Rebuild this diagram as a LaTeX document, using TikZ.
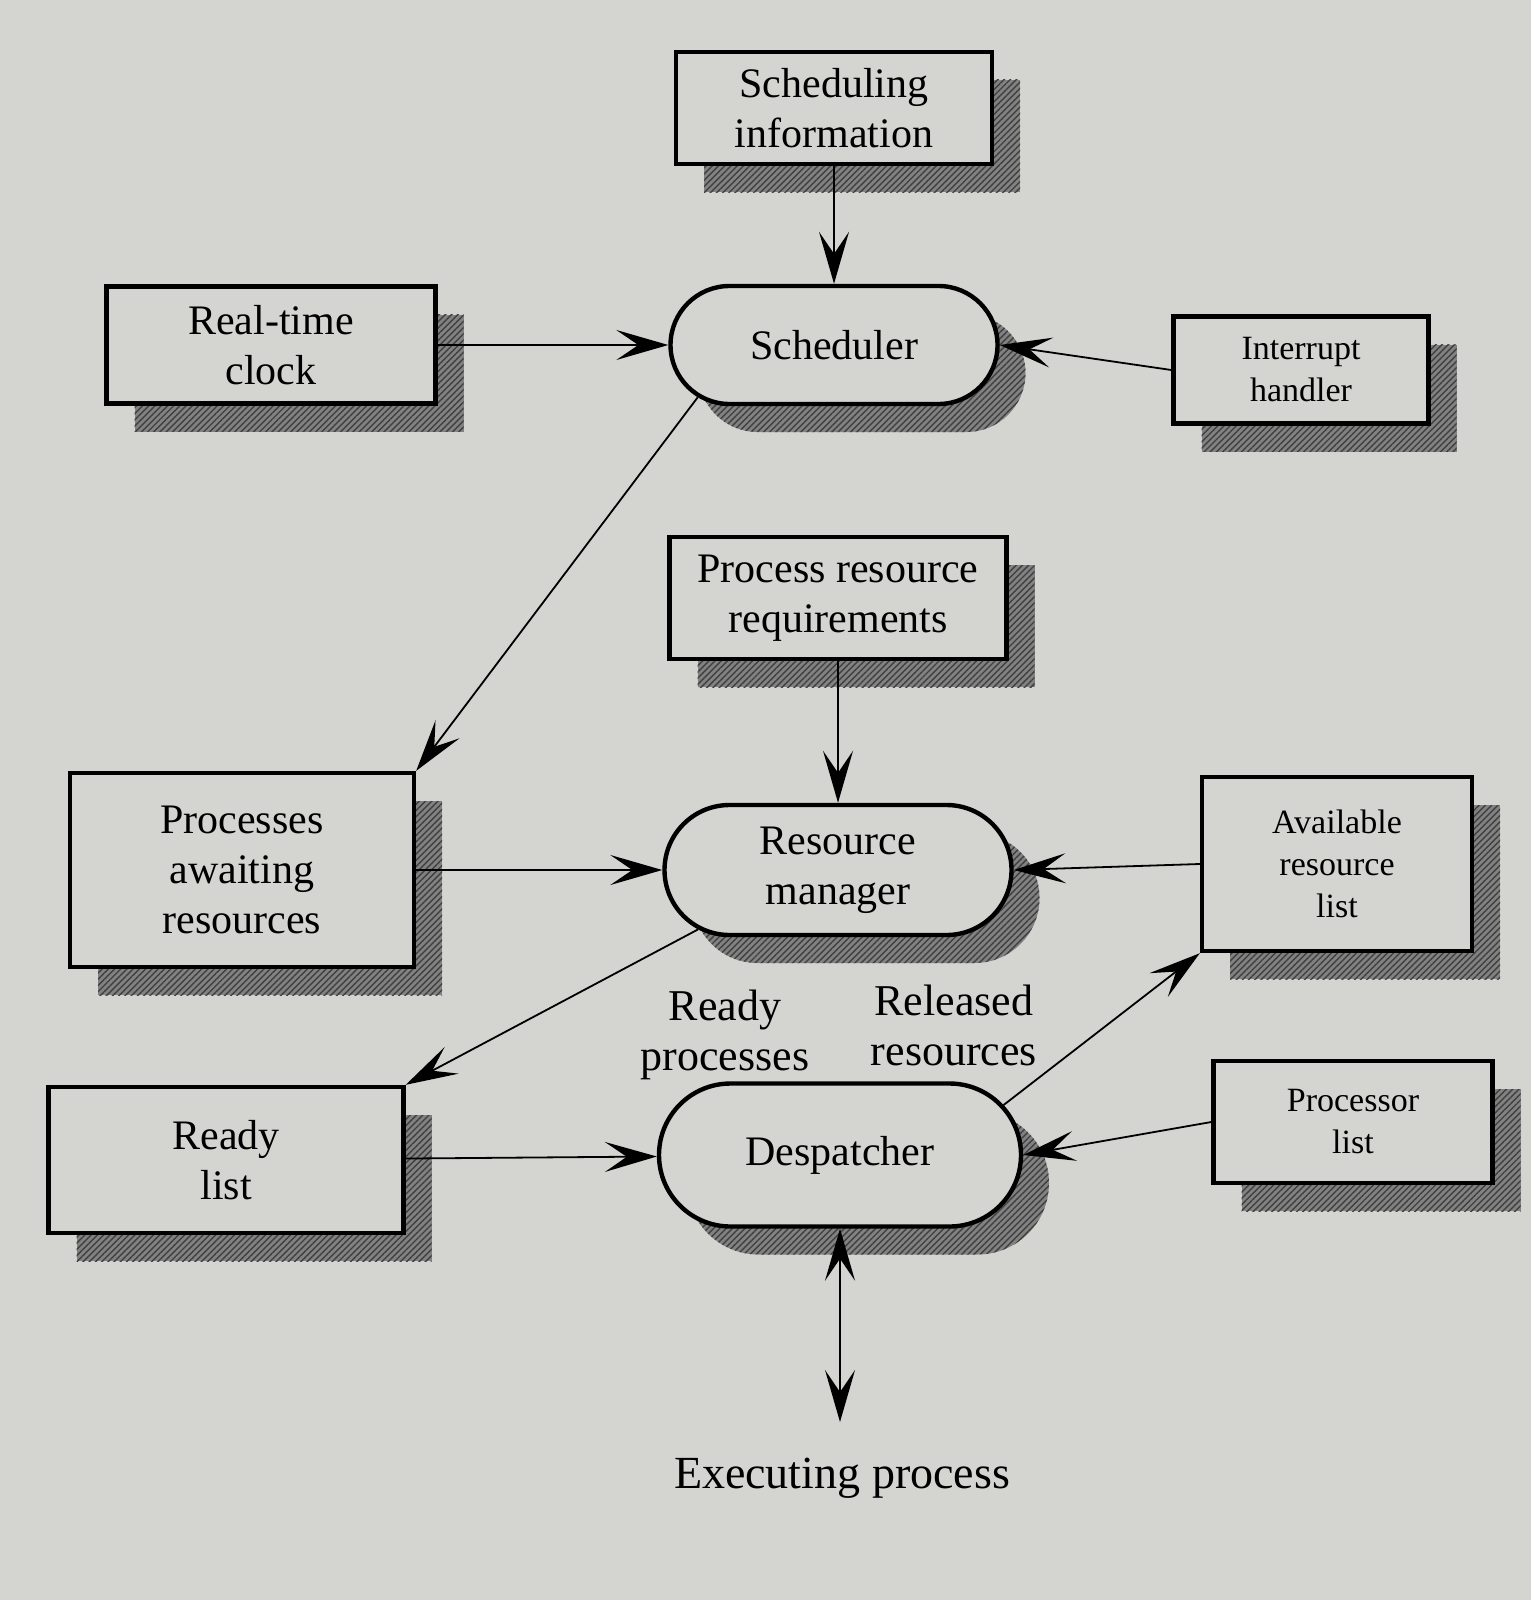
\documentclass[tikz,border=0pt]{standalone}
\usepackage{fontspec}
\setmainfont{Liberation Serif}
\usetikzlibrary{arrows.meta,shapes.misc,shadows,patterns.meta}
\definecolor{paper}{RGB}{212,212,208}
\definecolor{shadowgray}{RGB}{130,130,130}
\begin{document}
\begin{tikzpicture}[x=0.5pt,y=-0.5pt,
  every node/.style={font=\fontsize{21}{25}\selectfont, align=center, inner sep=0pt},
  shad/.style={drop shadow={shadow xshift=14pt,shadow yshift=-14pt,opacity=1,fill=shadowgray,
      postaction={pattern={Lines[angle=45,distance=2.2pt,line width=0.7pt]},pattern color=black!75}}},
  box/.style={draw=black, line width=2.2pt, fill=paper, rectangle, shad},
  pill/.style={draw=black, line width=2.2pt, fill=paper, rounded rectangle, shad},
  arr/.style={line width=0.9pt, -{Stealth[length=26pt,width=15pt,inset=11pt]}},
  dbl/.style={line width=0.9pt, {Stealth[length=26pt,width=15pt,inset=11pt]}-{Stealth[length=26pt,width=15pt,inset=11pt]}},
  small/.style={font=\fontsize{17}{21}\selectfont},
  lbl/.style={font=\fontsize{22}{25}\selectfont},
]
\fill[paper] (0,0) rectangle (1531,1600);

\node[box, minimum width=158pt, minimum height=56pt] (sinfo) at (834,108) {Scheduling\\information};
\node[pill, minimum width=163.5pt, minimum height=59pt] (sched) at (834,345) {Scheduler};
\node[box, minimum width=164.5pt, minimum height=58.5pt] (clock) at (271,345) {Real-time\\clock};
\node[box, small, minimum width=127.5pt, minimum height=53.5pt] (ih) at (1301,370) {Interrupt\\handler};
\node[box, minimum width=168.5pt, minimum height=61pt] (prr) at (838,598) {Process resource\\requirements};
\node[box, minimum width=172pt, minimum height=97pt] (pa) at (242,870) {Processes\\awaiting\\resources};
\node[pill, minimum width=173.5pt, minimum height=65pt] (rm) at (838,870) {Resource\\manager};
\node[box, small, minimum width=135pt, minimum height=87pt] (arl) at (1337,864) {Available\\resource\\list};
\node[box, minimum width=177.5pt, minimum height=73pt] (rl) at (226,1160) {Ready\\list};
\node[pill, minimum width=181pt, minimum height=71.5pt] (desp) at (840,1155) {Despatcher};
\node[box, small, minimum width=139.5pt, minimum height=61pt] (pl) at (1353,1122) {Processor\\list};
\node[lbl] (lrp) at (725,1035) {Ready\\processes};
\node[lbl] (lrr) at (954,1025) {Released\\resources};
\node[font=\fontsize{23}{27}\selectfont] (ex) at (842,1478) {Executing process};
\coordinate (exend) at (840,1422);

\draw[arr] (sinfo) -- (sched);
\draw[arr] (clock) -- (sched);
\draw[arr] (ih.west) -- (sched.east);
\draw[arr] (sched.201) -- (pa.north east);
\draw[arr] (prr) -- (rm);
\draw[arr] (pa) -- (rm);
\draw[arr] (arl.west) -- (rm.east);
\draw[arr] (rm.203) -- (rl.north east);
\draw[arr] (rl) -- (desp);
\draw[arr] (pl.west) -- (desp.east);
\draw[arr] (desp.17) -- (arl.south west);
\draw[dbl] (desp.south) -- (exend);
\end{tikzpicture}
\end{document}
